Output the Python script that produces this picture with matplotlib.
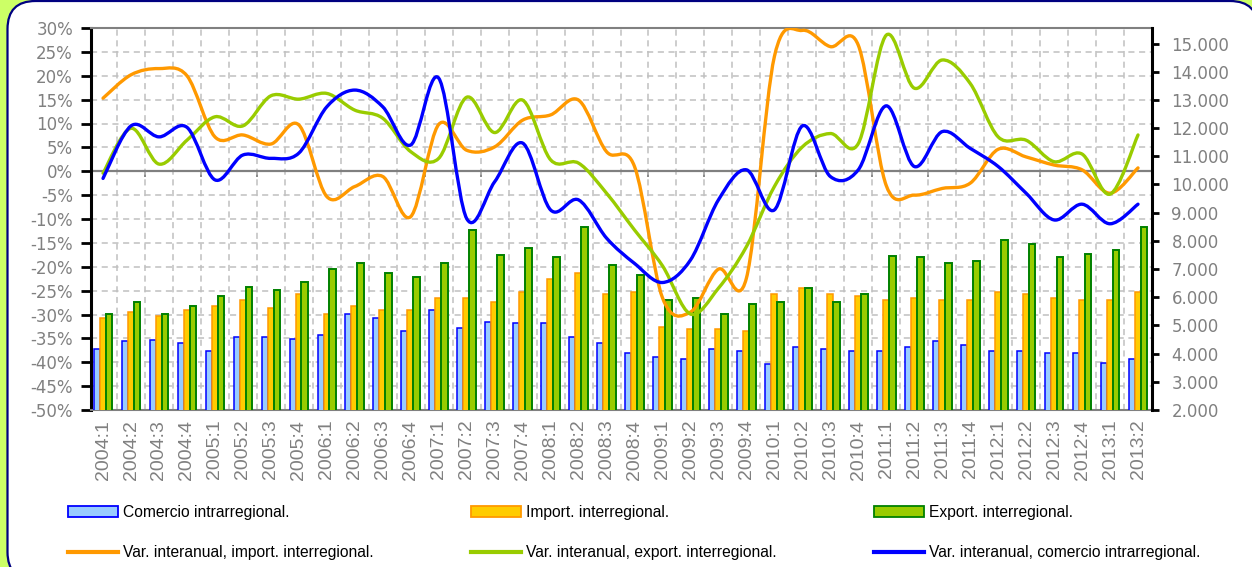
import matplotlib
matplotlib.use('Agg')
import matplotlib.pyplot as plt
from matplotlib.path import Path
from matplotlib.patches import PathPatch, FancyBboxPatch, Patch
from matplotlib.lines import Line2D
from matplotlib.ticker import FuncFormatter, FixedLocator
from matplotlib.transforms import IdentityTransform

# ---------------- data ----------------
categories = ['2004:1', '2004:2', '2004:3', '2004:4',
              '2005:1', '2005:2', '2005:3', '2005:4',
              '2006:1', '2006:2', '2006:3', '2006:4',
              '2007:1', '2007:2', '2007:3', '2007:4',
              '2008:1', '2008:2', '2008:3', '2008:4',
              '2009:1', '2009:2', '2009:3', '2009:4',
              '2010:1', '2010:2', '2010:3', '2010:4',
              '2011:1', '2011:2', '2011:3', '2011:4',
              '2012:1', '2012:2', '2012:3', '2012:4',
              '2013:1', '2013:2']

comercio_intra = [4160, 4450, 4500, 4360, 4090, 4580, 4580, 4510,
                  4650, 5420, 5270, 4790, 5550, 4920, 5130, 5070,
                  5070, 4580, 4360, 4030, 3890, 3820, 4160, 4100,
                  3620, 4230, 4160, 4090, 4090, 4230, 4450, 4310,
                  4090, 4090, 4030, 4030, 3680, 3820]

import_inter = [5270, 5490, 5330, 5550, 5690, 5900, 5620, 6110,
                5420, 5690, 5550, 5550, 5960, 5960, 5830, 6170,
                6660, 6870, 6100, 6170, 4930, 4860, 4860, 4790,
                6100, 6310, 6100, 6030, 5900, 5960, 5900, 5900,
                6170, 6100, 5960, 5900, 5900, 6170]

export_inter = [5400, 5820, 5400, 5680, 6030, 6370, 6240, 6530,
                7000, 7200, 6870, 6730, 7200, 8380, 7490, 7760,
                7420, 8500, 7130, 6790, 5900, 5960, 5420, 5760,
                5830, 6310, 5830, 6100, 7470, 7420, 7200, 7270,
                8030, 7880, 7420, 7530, 7680, 8500]

var_import = [15.3, 20.2, 21.5, 20.0, 7.2, 7.6, 5.7, 9.7,
              -5.3, -3.2, -1.1, -9.5, 9.8, 4.4, 5.1, 10.7,
              11.8, 14.9, 4.1, 1.0, -26.5, -29.5, -20.5, -22.4,
              24.0, 29.5, 26.1, 26.4, -3.0, -5.0, -3.6, -2.5,
              4.6, 3.0, 1.3, 0.3, -4.6, 0.7]

var_export = [-0.4, 9.0, 1.5, 6.5, 11.4, 9.5, 15.8, 15.1,
              16.3, 12.8, 11.1, 4.1, 2.7, 15.5, 8.1, 14.9,
              2.4, 1.7, -4.6, -12.3, -19.8, -29.9, -24.5, -15.8,
              -3.2, 5.1, 7.9, 5.8, 28.5, 17.4, 23.3, 18.4,
              7.2, 6.5, 2.0, 3.6, -4.8, 7.6]

var_intra = [-1.5, 9.5, 7.2, 9.2, -1.8, 3.4, 2.7, 3.8,
             13.5, 17.0, 13.5, 5.5, 19.5, -9.9, -2.2, 5.9,
             -8.1, -6.0, -14.0, -19.3, -23.3, -18.6, -6.0, 0.3,
             -8.1, 9.5, -1.1, 0.3, 13.7, 1.0, 8.3, 4.8,
             1.0, -4.6, -10.2, -6.9, -11.0, -6.9]

legend_labels = ['Comercio intrarregional.', 'Import. interregional.', 'Export. interregional.',
                 'Var. interanual, import. interregional.', 'Var. interanual, export. interregional.',
                 'Var. interanual, comercio intrarregional.']

# ---------------- styles ----------------
W, H = 1252, 567
GRAY = '#808080'
C_BLUE_F, C_BLUE_E = '#99CCFF', '#0000FF'
C_ORA_F, C_ORA_E = '#FFCC00', '#FF9900'
C_GRE_F, C_GRE_E = '#99CC00', '#008000'
L_ORA, L_GRE, L_BLUE = '#FF9900', '#99CC00', '#0000FF'

fig = plt.figure(figsize=(W / 100, H / 100), dpi=100, facecolor='#CCFF66')
frame = FancyBboxPatch((7.5, -13), 1250.5, 579, boxstyle='round,pad=0,rounding_size=28',
                       transform=IdentityTransform(), facecolor='white',
                       edgecolor='#000080', linewidth=1.6, zorder=-10)
fig.add_artist(frame)

L, R, T, B = 91, 1152, 28, 410
ax = fig.add_axes([L / W, 1 - B / H, (R - L) / W, (B - T) / H])
ax2 = ax.twinx()
ax3 = ax.twinx()

n = len(categories)
xs = list(range(n))
XMIN, XMAX = -0.43, n - 1 + 0.5
for a in (ax, ax2, ax3):
    a.set_xlim(XMIN, XMAX)

PMIN, PMAX = -50, 30
ax.set_ylim(PMIN, PMAX)
ax3.set_ylim(PMIN, PMAX)
ax2.set_ylim(2000, 15550)

# grid on base axis
ax.set_facecolor('white')
ax.yaxis.set_major_locator(FixedLocator(list(range(PMIN, PMAX + 1, 5))))
ax.xaxis.set_minor_locator(FixedLocator([i + 0.5 for i in range(n - 1)]))
ax.grid(which='major', axis='y', color='#C0C0C0', linestyle=(0, (4, 3)), linewidth=1.1)
ax.grid(which='minor', axis='x', color='#C0C0C0', linestyle=(0, (4, 3)), linewidth=1.1)
ax.set_axisbelow(True)
ax.axhline(0, color=GRAY, linewidth=1.6, zorder=1)
ax.yaxis.set_major_formatter(FuncFormatter(lambda v, p: f'{int(round(v))}%'))
ax.tick_params(axis='y', which='major', direction='out', length=7, width=2, color='black',
               labelsize=12, labelcolor=GRAY, pad=6)
for lab in ax.get_yticklabels():
    lab.set_family('DejaVu Sans')
ax.set_xticks(xs)
ax.set_xticklabels(categories, rotation=90, fontsize=14, color=GRAY, family='Liberation Sans')
ax.tick_params(axis='x', which='both', length=0, pad=7)
ax.spines['left'].set_color('black')
ax.spines['left'].set_linewidth(2.2)
ax.spines['right'].set_visible(False)
ax.spines['top'].set_color(GRAY)
ax.spines['top'].set_linewidth(1.5)
ax.spines['bottom'].set_color(GRAY)
ax.spines['bottom'].set_linewidth(1.5)

# 0% axis ticks every two categories
sec = ax.secondary_xaxis((0 - PMIN) / (PMAX - PMIN))
sec.set_xticks([i + 0.5 for i in range(1, n - 1, 2)])
sec.set_xticklabels([])
sec.tick_params(axis='x', direction='in', length=4, width=1.3, color=GRAY)
for s in ('top', 'bottom'):
    sec.spines[s].set_visible(False)

# bars (right axis)
bw = 0.215
ax2.bar([x - 0.225 for x in xs], comercio_intra, width=bw, color=C_BLUE_F,
        edgecolor=C_BLUE_E, linewidth=1.1, zorder=2)
ax2.bar([x - 0.01 for x in xs], import_inter, width=bw, color=C_ORA_F,
        edgecolor=C_ORA_E, linewidth=1.1, zorder=2)
ax2.bar([x + 0.215 for x in xs], export_inter, width=0.24, color=C_GRE_F,
        edgecolor=C_GRE_E, linewidth=1.4, zorder=3)
ax2.yaxis.set_major_locator(FixedLocator(list(range(2000, 15001, 1000))))
ax2.yaxis.set_major_formatter(FuncFormatter(lambda v, p: f'{int(v):,}'.replace(',', '.')))
ax2.tick_params(axis='y', direction='out', length=5, width=2, color='black',
                labelsize=12, labelcolor=GRAY, pad=9)
for lab in ax2.get_yticklabels():
    lab.set_family('DejaVu Sans')
ax2.spines['right'].set_color('black')
ax2.spines['right'].set_linewidth(2.2)
for s in ('left', 'top', 'bottom'):
    ax2.spines[s].set_visible(False)


def smooth_path(px, py):
    verts = [(px[0], py[0])]
    codes = [Path.MOVETO]
    m = len(px)
    for i in range(m - 1):
        i0, i3 = max(i - 1, 0), min(i + 2, m - 1)
        c1 = (px[i] + (px[i + 1] - px[i0]) / 6, py[i] + (py[i + 1] - py[i0]) / 6)
        c2 = (px[i + 1] - (px[i3] - px[i]) / 6, py[i + 1] - (py[i3] - py[i]) / 6)
        verts += [c1, c2, (px[i + 1], py[i + 1])]
        codes += [Path.CURVE4] * 3
    return Path(verts, codes)


for series, col in ((var_import, L_ORA), (var_export, L_GRE), (var_intra, L_BLUE)):
    ax3.add_patch(PathPatch(smooth_path(xs, series), facecolor='none', edgecolor=col,
                            linewidth=2.4, capstyle='round', joinstyle='round'))
ax3.set_yticks([])
for s in ('left', 'right', 'top', 'bottom'):
    ax3.spines[s].set_visible(False)

# legend
h_intra = Patch(facecolor=C_BLUE_F, edgecolor=C_BLUE_E, linewidth=1.3)
h_imp = Patch(facecolor=C_ORA_F, edgecolor=C_ORA_E, linewidth=1.3)
h_exp = Patch(facecolor=C_GRE_F, edgecolor=C_GRE_E, linewidth=1.3)
l_imp = Line2D([], [], color=L_ORA, linewidth=3)
l_exp = Line2D([], [], color=L_GRE, linewidth=3)
l_intra = Line2D([], [], color=L_BLUE, linewidth=3)
handles = [h_intra, l_imp, h_imp, l_exp, h_exp, l_intra]
labels = [legend_labels[0], legend_labels[3], legend_labels[1],
          legend_labels[4], legend_labels[2], legend_labels[5]]
fig.legend(handles, labels, loc='upper left', bbox_to_anchor=(68 / W, 1 - 505 / H),
           ncol=3, frameon=False, borderaxespad=0, borderpad=0,
           handlelength=3.2, handleheight=0.65, handletextpad=0.35,
           columnspacing=6.2, labelspacing=1.6,
           prop={'family': 'Liberation Sans', 'size': 11.25})

fig.savefig('out.png', dpi=100, facecolor=fig.get_facecolor())
